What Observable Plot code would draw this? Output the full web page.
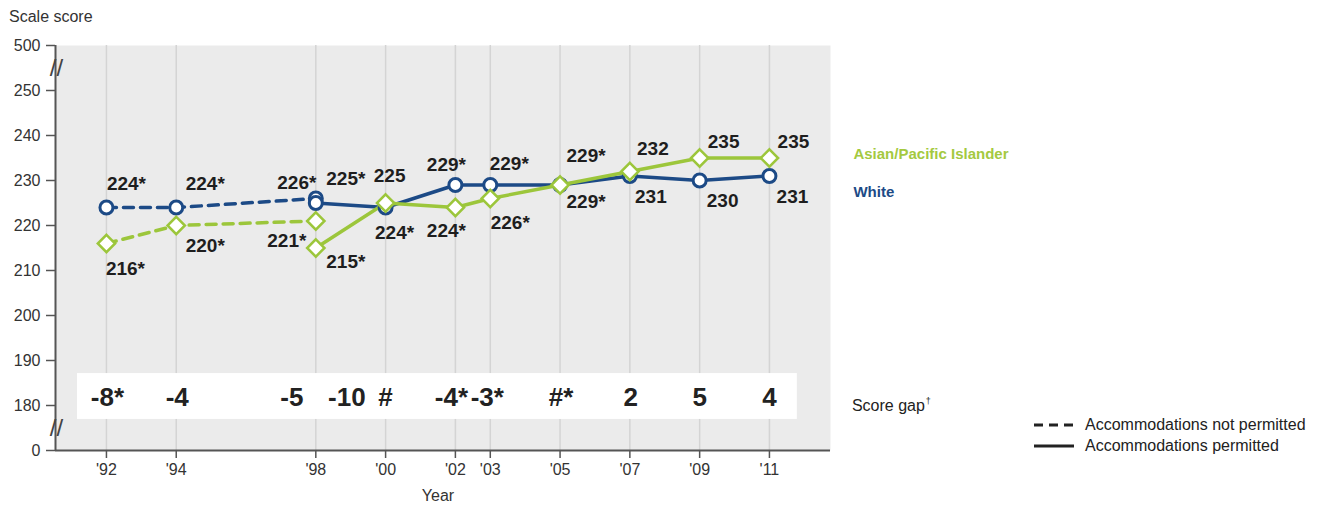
<!DOCTYPE html>
<html>
<head>
<meta charset="utf-8">
<script src="https://cdn.jsdelivr.net/npm/d3@7"></script>
<script src="https://cdn.jsdelivr.net/npm/@observablehq/plot@0.6"></script>
<style>
  body { margin: 0; background: #fff; }
  #wrap { position: relative; width: 1334px; height: 512px; overflow: hidden;
    font-family: "Liberation Sans", Arial, sans-serif; color: #333; }
  #title { position: absolute; left: 9px; top: 8px; font-size: 16px; color: #333; white-space: nowrap; }
  #legend { position: absolute; left: 1034px; top: 414px; font-size: 16px; color: #222; line-height: 21px; white-space: nowrap; }
  #legend div { display: flex; align-items: center; }
  #legend svg { margin-right: 11px; }
  #gaplabel { position: absolute; font-size: 16px; color: #222; white-space: nowrap; line-height: 20px; }
  #gaplabel sup { font-size: 9px; vertical-align: 7px; margin-left: 1px; }
</style>
</head>
<body>
<div id="wrap">
  <div id="title">Scale score</div>
  <div id="gaplabel">Score gap<sup>†</sup></div>
  <div id="legend">
    <div><svg width="40" height="6"><line x1="0" y1="3" x2="40" y2="3" stroke="#222" stroke-width="3" stroke-dasharray="9,6"></line></svg>Accommodations not permitted</div>
    <div><svg width="40" height="6"><line x1="0" y1="3" x2="40" y2="3" stroke="#222" stroke-width="3"></line></svg>Accommodations permitted</div>
  </div>
</div>
<script>
// ---- data ----
const years = [1992, 1994, 1998, 1998, 2000, 2002, 2003, 2005, 2007, 2009, 2011];
const accommodations = ["not permitted", "not permitted", "not permitted", "permitted", "permitted", "permitted", "permitted", "permitted", "permitted", "permitted", "permitted"];
const whiteScores = [224, 224, 226, 225, 224, 229, 229, 229, 231, 230, 231];
const whiteLabels = ["224*", "224*", "226*", "225*", "224*", "229*", "229*", "229*", "231", "230", "231"];
const asianScores = [216, 220, 221, 215, 225, 224, 226, 229, 232, 235, 235];
const asianLabels = ["216*", "220*", "221*", "215*", "225", "224*", "226*", "229*", "232", "235", "235"];
const scoreGaps = ["-8*", "-4", "-5", "-10", "#", "-4*", "-3*", "#*", "2", "5", "4"];
const tickYears = [1992, 1994, 1998, 2000, 2002, 2003, 2005, 2007, 2009, 2011];
const yTicks = [170, 180, 190, 200, 210, 220, 230, 240, 250, 260];
const yTickLabels = ["0", "180", "190", "200", "210", "220", "230", "240", "250", "500"];
const seriesNames = ["White", "Asian/Pacific Islander"];

// ---- styles / layout ----
const NAVY = "#1c4a86";
const GREEN = "#9cc63b";
const FONT = '"Liberation Sans", Arial, sans-serif';
const whiteOff = [[20,-24],[29,-24],[-19,-16],[30,-24],[9,25],[-9,-20],[19,-21],[26,17],[21,21],[23,20],[23,21]];
const asianOff = [[19,25],[29,20],[-29,20],[30,14],[4,-27],[-9,23],[20,24],[26,-29],[23,-23],[24,-16],[24,-16]];
const gapOff = [1, 1, -24, 31, 0, -4, -3, 1, 1, 0, 0];
const xDomain = [1990.54, 2012.75];
const gapY = 181.8;

const rows = [];
years.forEach((yr, i) => {
  rows.push({year: yr, score: whiteScores[i], label: whiteLabels[i], series: seriesNames[0], acc: accommodations[i], off: whiteOff[i]});
});
years.forEach((yr, i) => {
  rows.push({year: yr, score: asianScores[i], label: asianLabels[i], series: seriesNames[1], acc: accommodations[i], off: asianOff[i]});
});
const W = rows.filter(d => d.series === "White");
const A = rows.filter(d => d.series !== "White");
const seg = (arr, acc) => arr.filter(d => d.acc === acc);
const gaps = years.map((yr, i) => ({year: yr, text: scoreGaps[i], dx: gapOff[i]}));
const lastW = W[W.length - 1], lastA = A[A.length - 1];

const labelMarks = rows.map(d => Plot.text([d], {x: "year", y: "score", text: "label", dx: d.off[0], dy: d.off[1], fontSize: 19, fontWeight: "bold", fill: "#1e1e1e"}));
const gapMarks = gaps.map(d => Plot.text([d], {x: "year", y: () => gapY, text: "text", dx: d.dx, fontSize: 26, fontWeight: "bold", fill: "#222"}));

const chart = Plot.plot({
  width: 1334,
  height: 512,
  marginLeft: 55,
  marginRight: 504,
  marginTop: 45,
  marginBottom: 62,
  x: {domain: xDomain},
  y: {domain: [170, 260]},
  style: {fontFamily: FONT, fontSize: "16px", color: "#333", background: "transparent", overflow: "visible"},
  marks: [
    Plot.frame({fill: "#ebebeb", stroke: null}),
    Plot.ruleX(tickYears, {stroke: "#d4d4d4", strokeWidth: 1.5}),
    // score gap band
    Plot.rect([0], {x1: () => years[0] - 0.83, x2: () => years[years.length - 1] + 0.8, y1: 176.9, y2: 187.1, fill: "white"}),
    ...gapMarks,
    // axes
    Plot.ruleX([xDomain[0]], {stroke: "#555", strokeWidth: 2}),
    Plot.ruleY([170], {stroke: "#555", strokeWidth: 2}),
    Plot.axisY({ticks: yTicks, tickFormat: (d) => yTickLabels[yTicks.indexOf(d)], tickSize: 9, tickPadding: 6, fontSize: 16, label: null, stroke: "#555", strokeWidth: 1.5}),
    Plot.axisX({ticks: tickYears, tickFormat: d => "'" + String(d).slice(2), tickSize: 8, tickPadding: 5, fontSize: 16, label: null, stroke: "#555", strokeWidth: 1.5}),
    Plot.text([255, 175], {x: () => xDomain[0], y: d => d, text: () => "//", fontSize: 24, fill: "#444", dx: 1}),
    Plot.text(["Year"], {frameAnchor: "bottom", dy: 50, text: d => d, fontSize: 16, fill: "#333", dx: -5}),
    // lines
    Plot.line(seg(W, "not permitted"), {x: "year", y: "score", stroke: NAVY, strokeWidth: 3.5, strokeDasharray: "10,7"}),
    Plot.line(seg(W, "permitted"), {x: "year", y: "score", stroke: NAVY, strokeWidth: 3.5}),
    Plot.line(seg(A, "not permitted"), {x: "year", y: "score", stroke: GREEN, strokeWidth: 3.5, strokeDasharray: "10,7"}),
    Plot.line(seg(A, "permitted"), {x: "year", y: "score", stroke: GREEN, strokeWidth: 3.5}),
    // points
    Plot.dot(W, {x: "year", y: "score", r: 6.5, symbol: "circle", fill: "white", stroke: NAVY, strokeWidth: 3}),
    Plot.dot(A, {x: "year", y: "score", r: 7.8, symbol: "diamond2", fill: "white", stroke: GREEN, strokeWidth: 2.5}),
    // value labels
    ...labelMarks,
    // series labels
    Plot.text([lastA], {x: "year", y: "score", text: d => d.series, dx: 84, dy: -4, textAnchor: "start", fontSize: 15, fontWeight: "bold", fill: "#a4c93f"}),
    Plot.text([lastW], {x: "year", y: "score", text: d => d.series, dx: 84, dy: 16, textAnchor: "start", fontSize: 15, fontWeight: "bold", fill: NAVY})
  ]
});
const wrap = document.getElementById("wrap");
wrap.prepend(chart);
chart.style.position = "absolute";
chart.style.left = "0";
chart.style.top = "0";
const sx = chart.scale("x"), sy = chart.scale("y");
const gl = document.getElementById("gaplabel");
gl.style.left = (sx.apply(years[years.length - 1]) + 83) + "px";
gl.style.top = (sy.apply(gapY) - 6) + "px";
</script>
</body>
</html>
